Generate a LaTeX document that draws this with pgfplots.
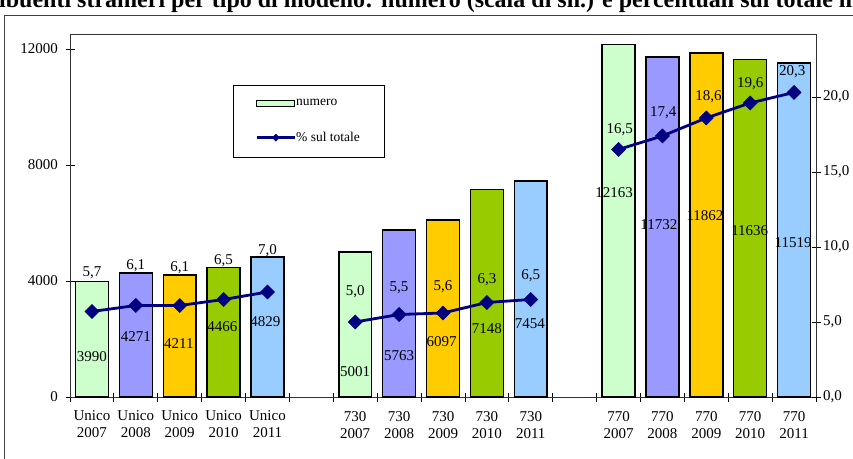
\documentclass[border=0pt]{standalone}
\usepackage{pgfplots}
\pgfplotsset{compat=1.18}
\usepackage{fontspec}
\setmainfont{Liberation Serif}
\definecolor{c07}{HTML}{CCFFCC}
\definecolor{c08}{HTML}{9999FF}
\definecolor{c09}{HTML}{FFCC00}
\definecolor{c10}{HTML}{99CC00}
\definecolor{c11}{HTML}{99CCFF}
\definecolor{navy}{HTML}{000080}
\pgfplotsset{
  numleg/.style={legend image code/.code={\draw[##1] (0pt,-3pt) rectangle (38pt,3pt);}},
  lineleg/.style={legend image code/.code={\draw[##1,mark=none] (0pt,0pt)--(38pt,0pt); \draw[##1, mark size=2.5pt] plot coordinates {(19pt,0pt)};}},
  barst/.style={ybar, bar width=0.75, bar shift=0pt, draw=black, line width=1.5pt},
  linest/.style={navy, line width=2.8pt, mark=square*, mark size=5pt, mark options={rotate=45, fill=navy, line width=0.5pt}},
}
\begin{document}
\begin{tikzpicture}
\node[anchor=base west, font=\bfseries\fontsize{24}{26}\selectfont, inner sep=0pt] at (-1pt,450.5pt) {\llap{Contr}ibuenti stranieri per tipo di modello: numero (scala di sn.) e percentuali sul totale modelli};
\draw[line width=0.8pt, black!75] (4pt,-20pt) -- (4pt,443pt) -- (900pt,443pt);
\begin{axis}[
  at={(70pt,61pt)}, anchor=south west, scale only axis,
  width=746pt, height=362pt,
  xmin=-0.5, xmax=16.5, ymin=0, ymax=12483,
  axis line style={black!80, line width=1pt},
  ytick={0,4000,8000,12000},
  scaled y ticks=false,
  ytick pos=left,
  xtick={0,1,2,3,4,6,7,8,9,10,12,13,14,15,16},
  xticklabels={{Unico\\2007},{Unico\\2008},{Unico\\2009},{Unico\\2010},{Unico\\2011},
    {730\\2007},{730\\2008},{730\\2009},{730\\2010},{730\\2011},
    {770\\2007},{770\\2008},{770\\2009},{770\\2010},{770\\2011}},
  xticklabel style={align=center, font=\fontsize{15}{17}\selectfont, yshift=-6pt},
  yticklabel style={font=\fontsize{15}{17}\selectfont, xshift=-4pt},
  xtick pos=bottom,
  major x tick style={draw=none},
  minor xtick={-0.5,0.5,...,16.5},
  tick align=center,
  major tick length=9pt, minor tick length=9pt,
  tick style={black, line width=0.8pt},
  /pgf/number format/.cd, 1000 sep={}, assume math mode=true,
]
\addplot[barst, fill=c07] coordinates {(0,3990) (6,5001) (12,12163)};
\addplot[barst, fill=c08] coordinates {(1,4271) (7,5763) (13,11732)};
\addplot[barst, fill=c09] coordinates {(2,4211) (8,6097) (14,11862)};
\addplot[barst, fill=c10] coordinates {(3,4466) (9,7148) (15,11636)};
\addplot[barst, fill=c11] coordinates {(4,4829) (10,7454) (16,11519)};
\begin{scope}[every node/.style={font=\fontsize{15}{17}\selectfont, inner sep=0pt}]
\node at (axis cs:0,1390) {3990};
\node at (axis cs:1,2079) {4271};
\node at (axis cs:1.98,1828) {4211};
\node at (axis cs:2.97,2424) {4466};
\node at (axis cs:3.95,2586) {4829};
\node at (axis cs:6,872) {5001};
\node at (axis cs:7,1424) {5763};
\node at (axis cs:7.97,1907) {6097};
\node at (axis cs:9,2355) {7148};
\node at (axis cs:9.98,2541) {7454};
\node at (axis cs:11.9,7059) {12163};
\node at (axis cs:12.92,5931) {11732};
\node at (axis cs:13.97,6241) {11862};
\node at (axis cs:14.99,5724) {11636};
\node at (axis cs:15.98,5334) {11519};
\node at (axis cs:0,4286) {5,7};
\node at (axis cs:1,4517) {6,1};
\node at (axis cs:2,4448) {6,1};
\node at (axis cs:3,4700) {6,5};
\node at (axis cs:4,5045) {7,0};
\node at (axis cs:6,3631) {5,0};
\node at (axis cs:7,3783) {5,5};
\node at (axis cs:8,3803) {5,6};
\node at (axis cs:9,4059) {6,3};
\node at (axis cs:10,4172) {6,5};
\node at (axis cs:12.03,9231) {16,5};
\node at (axis cs:13.02,9803) {17,4};
\node at (axis cs:14.05,10355) {18,6};
\node at (axis cs:15,10817) {19,6};
\node at (axis cs:15.96,11217) {20,3};
\end{scope}
\end{axis}
\begin{axis}[
  at={(70pt,61pt)}, anchor=south west, scale only axis,
  width=746pt, height=362pt,
  xmin=-0.5, xmax=16.5, ymin=0, ymax=24.13,
  axis x line=none,
  axis y line*=right,
  axis line style={black!80, line width=1pt},
  ytick={0,5,10,15,20},
  yticklabel style={font=\fontsize{15}{17}\selectfont, xshift=-1pt},
  tick align=center, major tick length=9pt,
  tick style={black, line width=0.8pt},
  /pgf/number format/.cd, fixed, fixed zerofill, precision=1, use comma, assume math mode=true,
  /pgfplots/.cd,
  legend cell align=left,
  legend style={at={(axis description cs:0.2185,0.862)}, anchor=north west,
    draw=black, line width=0.8pt, fill=white,
    font=\fontsize{13.5}{15}\selectfont,
    inner xsep=22pt, inner ysep=14pt, row sep=25pt,
    nodes={inner sep=0pt},
    /tikz/every even column/.append style={column sep=3pt}},
]
\addlegendimage{numleg, fill=c07, draw=black, line width=1.2pt}
\addlegendentry{\makebox[66pt][l]{numero}}
\addplot[linest, lineleg] coordinates {(0,5.7) (1,6.1) (2,6.1) (3,6.5) (4,7.0)};
\addlegendentry{\makebox[66pt][l]{\% sul totale}}
\addplot[linest, forget plot] coordinates {(6,5.0) (7,5.5) (8,5.6) (9,6.3) (10,6.5)};
\addplot[linest, forget plot] coordinates {(12,16.5) (13,17.4) (14,18.6) (15,19.6) (16,20.3)};
\end{axis}
\pgfresetboundingbox
\useasboundingbox (0pt,0pt) rectangle (853pt,458pt);
\end{tikzpicture}
\end{document}
